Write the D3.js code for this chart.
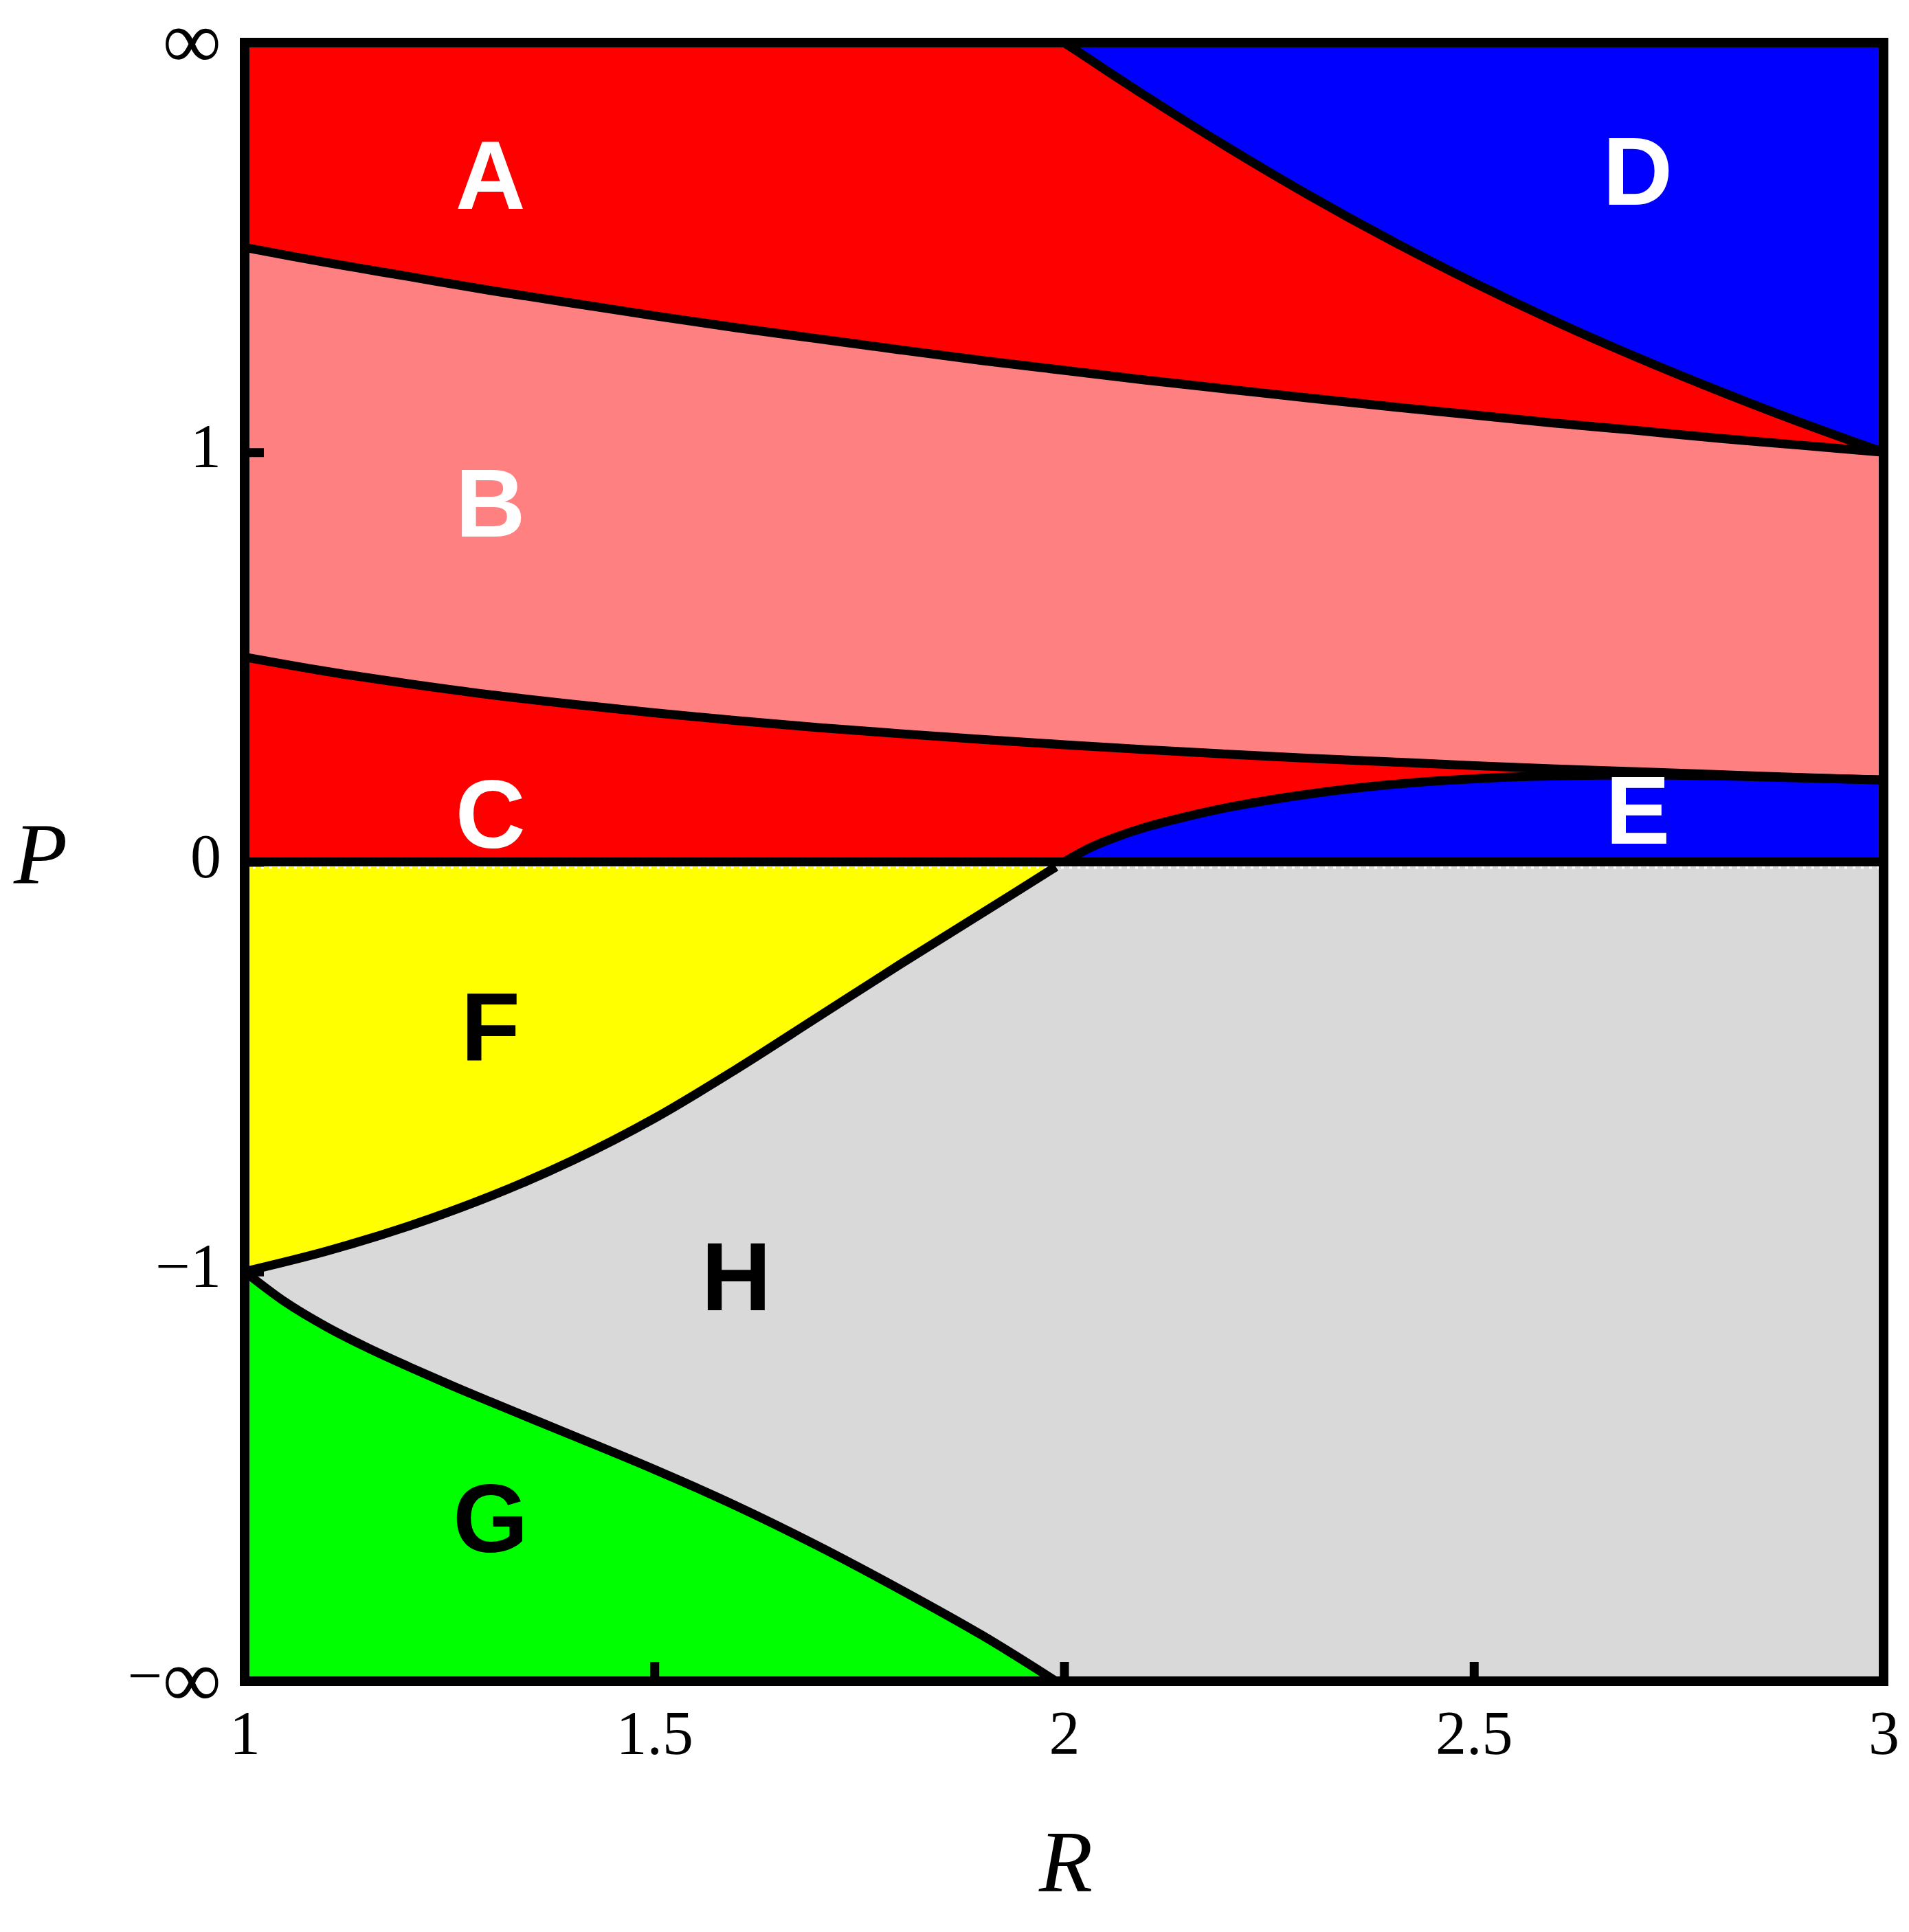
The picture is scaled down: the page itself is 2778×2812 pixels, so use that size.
<!DOCTYPE html>
<html>
<head>
<meta charset="utf-8">
<script src="https://cdn.jsdelivr.net/npm/d3@7"></script>
<style>
  body { margin: 0; background: #fff; }
</style>
</head>
<body>
<svg id="chart" width="2778" height="2812"></svg>
<script>
// P axis is compactified: -2 = -inf, 2 = +inf
const pTicks = [-2, -1, 0, 1, 2];
const pTickLabels = ['\u2212\u221e', '\u22121', '0', '1', '\u221e'];
const rTicks = [1, 1.5, 2, 2.5, 3];
const rTickLabels = ['1', '1.5', '2', '2.5', '3'];

// boundary A / B and B / C
const rGrid = [1.0, 1.1, 1.2, 1.3, 1.4, 1.5, 1.6, 1.7, 1.8, 1.9, 2.0, 2.1, 2.2, 2.3, 2.4, 2.5, 2.6, 2.7, 2.8, 2.9, 3.0];
const boundaryAB = [1.5, 1.463, 1.429, 1.395, 1.364, 1.333, 1.304, 1.277, 1.25, 1.224, 1.2, 1.176, 1.154, 1.132, 1.111, 1.091, 1.071, 1.053, 1.034, 1.017, 1.0];
const boundaryBC = [0.5, 0.465, 0.435, 0.408, 0.385, 0.364, 0.345, 0.328, 0.313, 0.299, 0.286, 0.274, 0.263, 0.253, 0.244, 0.235, 0.227, 0.22, 0.213, 0.206, 0.2];

// boundary A / D
const rD = [2.0, 2.02, 2.05, 2.1, 2.2, 2.3, 2.4, 2.5, 2.6, 2.7, 2.8, 2.9, 3.0];
const boundaryD = [2.0, 1.974, 1.934, 1.869, 1.744, 1.626, 1.516, 1.414, 1.319, 1.231, 1.149, 1.072, 1.0];

// boundary C / E
const rE = [2.0, 2.03, 2.06, 2.1, 2.15, 2.2, 2.3, 2.4, 2.5, 2.6, 2.7, 2.8, 2.9, 3.0];
const boundaryE = [0, 0.033, 0.058, 0.085, 0.111, 0.133, 0.166, 0.189, 0.203, 0.21, 0.212, 0.21, 0.205, 0.2];

// boundary F / H
const rFH = [1.0, 1.1, 1.2, 1.3, 1.4, 1.5, 1.6, 1.7, 1.8, 1.9, 1.99];
const boundaryFH = [-1.0, -0.95, -0.889, -0.816, -0.729, -0.626, -0.506, -0.378, -0.25, -0.125, -0.012];

// boundary G / H
const rGH = [1.0, 1.05, 1.1, 1.15, 1.2, 1.25, 1.3, 1.4, 1.5, 1.6, 1.7, 1.8, 1.9, 1.99];
const boundaryGH = [-1.0, -1.075, -1.135, -1.186, -1.232, -1.276, -1.318, -1.4, -1.483, -1.572, -1.67, -1.776, -1.888, -2.0];

// region labels
const regionNames = ['A', 'B', 'C', 'D', 'E', 'F', 'G', 'H'];
const regionR = [1.3, 1.3, 1.3, 2.7, 2.7, 1.3, 1.3, 1.6];
const regionP = [1.68, 0.88, 0.12, 1.69, 0.13, -0.4, -1.6, -1.01];
const regionText = ['#fff', '#fff', '#fff', '#fff', '#fff', '#000', '#000', '#000'];

const svg = d3.select('#chart');
svg.append('rect').attr('width', 2778).attr('height', 2812).attr('fill', '#fff');

const x = d3.scaleLinear().domain([1, 3]).range([356, 2741]);
const y = d3.scaleLinear().domain([-2, 2]).range([2447, 62]);

const smooth = d3.curveCatmullRom.alpha(0.5);

const line = d3
  .line()
  .x((d) => x(d.r))
  .y((d) => y(d.p))
  .curve(smooth);

const area = d3
  .area()
  .x((d) => x(d.r))
  .y0((d) => y(d.lo))
  .y1((d) => y(d.hi))
  .curve(smooth);

const pts = (rs, ps) => rs.map((r, i) => ({ r: r, p: ps[i] }));
const band = (rs, lo, hi) =>
  rs.map((r, i) => ({
    r: r,
    lo: typeof lo === 'number' ? lo : lo[i],
    hi: typeof hi === 'number' ? hi : hi[i],
  }));

const fills = svg.append('g');

// upper half red (A, C), lower half grey (H)
fills.append('rect')
  .attr('x', x(1)).attr('y', y(2))
  .attr('width', x(3) - x(1)).attr('height', y(0) - y(2))
  .attr('fill', '#ff0000');
fills.append('rect')
  .attr('x', x(1)).attr('y', y(0))
  .attr('width', x(3) - x(1)).attr('height', y(-2) - y(0))
  .attr('fill', '#d9d9d9');

fills.append('path').attr('d', area(band(rGrid, boundaryBC, boundaryAB))).attr('fill', '#ff8080');
fills.append('path').attr('d', area(band(rD, boundaryD, 2))).attr('fill', '#0000ff');
fills.append('path').attr('d', area(band(rE, 0, boundaryE))).attr('fill', '#0000ff');
fills.append('path').attr('d', area(band(rFH, boundaryFH, 0))).attr('fill', '#ffff00');
fills.append('path').attr('d', area(band(rGH, -2, boundaryGH))).attr('fill', '#00ff00');

// white dotted line under P = 0
svg.append('line')
  .attr('x1', x(1)).attr('x2', x(3))
  .attr('y1', y(0) + 8).attr('y2', y(0) + 8)
  .attr('stroke', '#fff')
  .attr('stroke-width', 4)
  .attr('stroke-dasharray', '4 8');

const curves = svg.append('g')
  .attr('fill', 'none')
  .attr('stroke', '#000')
  .attr('stroke-width', 13);

[
  pts(rGrid, boundaryAB),
  pts(rGrid, boundaryBC),
  pts(rD, boundaryD),
  pts(rE, boundaryE),
  pts(rFH, boundaryFH),
  pts(rGH, boundaryGH),
].forEach((d) => curves.append('path').attr('d', line(d)));

curves.append('line')
  .attr('x1', x(1)).attr('x2', x(3))
  .attr('y1', y(0)).attr('y2', y(0));

// axes
const yAxis = svg.append('g')
  .attr('transform', `translate(${x(1)},0)`)
  .call(
    d3.axisLeft(y)
      .tickValues(pTicks)
      .tickFormat((d, i) => pTickLabels[i])
      .tickSize(-28)
      .tickPadding(34)
  );

const xAxis = svg.append('g')
  .attr('transform', `translate(0,${y(-2)})`)
  .call(
    d3.axisBottom(x)
      .tickValues(rTicks)
      .tickFormat((d, i) => rTickLabels[i])
      .tickSize(-28)
      .tickPadding(42)
  );

[yAxis, xAxis].forEach((g) => {
  g.select('.domain').remove();
  g.selectAll('.tick line').attr('stroke', '#000').attr('stroke-width', 13);
  g.selectAll('.tick text')
    .attr('font-family', '"Liberation Serif", "DejaVu Serif", serif')
    .attr('font-size', 90)
    .attr('fill', '#000');
});
yAxis.selectAll('.tick text').attr('dy', '0.24em');

// the infinity glyph is drawn larger, as in TeX
// (a tspan dy overrides the text dy, so the shift is carried by the first tspan)
const baseDy = 0.24 * 90;
yAxis.selectAll('.tick text').each(function (d, i) {
  const lbl = pTickLabels[i];
  if (!lbl.includes('\u221e')) return;
  const t = d3.select(this).text(null).attr('dy', null);
  let shift = baseDy;
  if (lbl.startsWith('\u2212')) {
    t.append('tspan').attr('dy', baseDy).text('\u2212');
    shift = 0;
  }
  t.append('tspan').attr('font-size', 120).attr('dy', shift + 15).text('\u221e');
});

// frame
svg.append('rect')
  .attr('x', x(1)).attr('y', y(2))
  .attr('width', x(3) - x(1)).attr('height', y(-2) - y(2))
  .attr('fill', 'none')
  .attr('stroke', '#000')
  .attr('stroke-width', 14);

// axis titles
svg.append('text')
  .attr('x', 59).attr('y', 1241).attr('dy', '0.35em')
  .attr('text-anchor', 'middle')
  .attr('font-family', '"Liberation Serif", "DejaVu Serif", serif')
  .attr('font-style', 'italic')
  .attr('font-size', 128)
  .text('P');

svg.append('text')
  .attr('x', 1551).attr('y', 2708).attr('dy', '0.35em')
  .attr('text-anchor', 'middle')
  .attr('font-family', '"Liberation Serif", "DejaVu Serif", serif')
  .attr('font-style', 'italic')
  .attr('font-size', 128)
  .text('R');

// region labels
svg.append('g')
  .selectAll('text')
  .data(regionNames)
  .join('text')
  .attr('x', (d, i) => x(regionR[i]))
  .attr('y', (d, i) => y(regionP[i]))
  .attr('dy', '0.36em')
  .attr('text-anchor', 'middle')
  .attr('font-family', '"Liberation Sans", Arial, sans-serif')
  .attr('font-weight', 'bold')
  .attr('font-size', 141)
  .attr('fill', (d, i) => regionText[i])
  .text((d) => d);
</script>
</body>
</html>
